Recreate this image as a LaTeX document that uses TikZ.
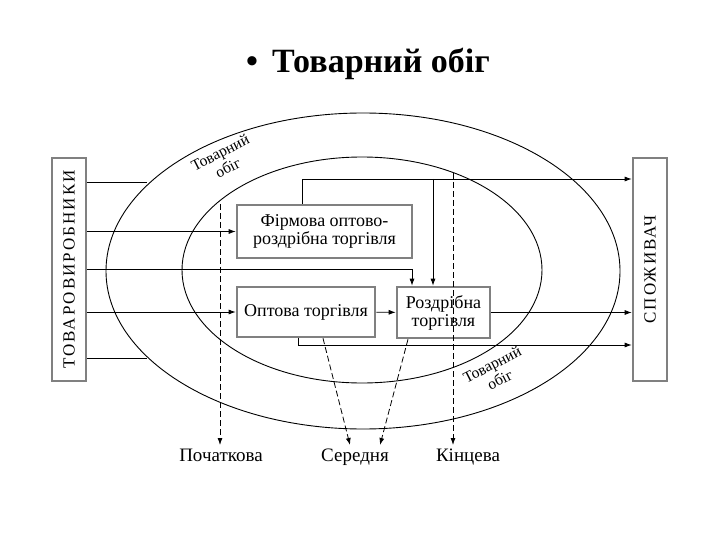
\documentclass[tikz,border=0pt]{standalone}
\usepackage{fontspec}
\setmainfont{Liberation Serif}
\usetikzlibrary{positioning,arrows.meta,calc}
\definecolor{BoxGray}{HTML}{808080}

\begin{document}
\begin{tikzpicture}[x=1pt,y=-1pt,
        box/.style={draw=BoxGray, line width=2.6pt, fill=white, align=center,
                    inner sep=1pt, font=\fontsize{18}{18}\selectfont},
        side/.style={box, rotate=90, minimum width=223, minimum height=34,
                     font=\fontsize{17}{17}\selectfont\addfontfeatures{LetterSpace=12}},
        ar/.style={-{Latex[length=7pt,width=5pt]}, line width=0.8pt},
        ln/.style={line width=0.8pt},
        dsh/.style={-{Latex[length=7pt,width=5pt]}, line width=0.8pt,
                    dash pattern=on 6pt off 3pt},
        oval/.style={line width=0.9pt},
        ring/.style={font=\fontsize{15.5}{17}\selectfont, align=center,
                     rotate=27, inner sep=0pt},
        lbl/.style={font=\fontsize{19}{19}\selectfont, anchor=north,
                    text height=13pt, text depth=4pt},
      ]
      \useasboundingbox (0,0) rectangle (720,540);
      \node[font=\fontsize{34}{36}\selectfont\bfseries] (title) at (368,64)
        {\textbullet\hspace{14pt}Товарний обіг};

      \draw[oval] (363,271) ellipse [x radius=257, y radius=158];
      \draw[oval] (362,270) ellipse [x radius=180, y radius=113];
      \node[ring] (ringtop) at (224,160) {Товарний\\обіг};
      \node[ring] (ringbot) at (496,372) {Товарний\\обіг};

      \node[side] (prod) at (69,269.5) {ТОВАРОВИРОБНИКИ};
      \node[side] (cons) at (650,269.5) {СПОЖИВАЧ};
      \node[box, minimum width=175, minimum height=53] (firm) at (324.5,231.5)
        {Фірмова оптово-\\роздрібна торгівля};
      \node[box, minimum width=138, minimum height=50] (whole) at (306,312)
        {Оптова торгівля};
      \node[box, minimum width=93, minimum height=51] (retail) at (443.5,312.5)
        {Роздрібна\\торгівля};

      \node[lbl] (init) at (221,445) {Початкова};
      \node[lbl] (middle) at (355,445) {Середня};
      \node[lbl] (final) at (468,445) {Кінцева};

      \coordinate (o1) at (147,182);
      \coordinate (o2) at (147,358);
      \coordinate (mid) at (412,269);
      \coordinate (top) at (302,179);
      \coordinate (br) at (433,179);
      \coordinate (low) at (298,345);
      \coordinate (s1) at (220,204);
      \coordinate (s2) at (453,173);

      \draw[ln] (prod.south |- o1) -- (o1);
      \draw[ln] (prod.south |- o2) -- (o2);
      \draw[ar] (prod.south |- firm.west) -- (firm.west);
      \draw[ar] (prod.south |- mid) -- (mid) -- (mid |- retail.north);
      \draw[ar] (prod.south |- whole.west) -- (whole.west);

      \draw[ar] (firm.north -| top) -- (top) -- (cons.north |- top);
      \draw[ar] (br) -- (br |- retail.north);
      \draw[ar] (whole) -- (retail);
      \draw[ar] (retail.east) -- (cons.north |- retail.east);
      \draw[ar] (whole.south -| low) -- (low) -- (cons.north |- low);

      \draw[dsh] (s1) -- (s1 |- init.north);
      \draw[dsh] (s2) -- (s2 |- final.north);
      \draw[dsh] (whole.south -| 323,0) -- ($(middle.north)+(-5,0)$);
      \draw[dsh] (retail.south -| 408,0) -- ($(middle.north)+(25,0)$);
    \end{tikzpicture}
\end{document}
